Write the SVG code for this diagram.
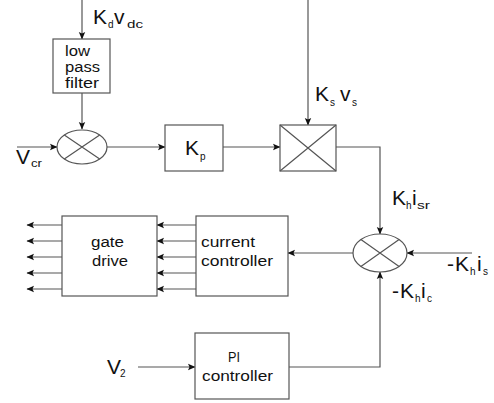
<svg xmlns="http://www.w3.org/2000/svg" width="494" height="403" viewBox="0 0 494 403">
<style>
.ln{fill:none;stroke:#555;stroke-width:1.2}
.bx{fill:#fff;stroke:#555;stroke-width:1.2}
.t{font-family:"Liberation Sans",Arial,sans-serif;font-size:14px;fill:#111}
.big{font-family:"Liberation Sans",Arial,sans-serif;font-size:21px;fill:#111}
.sub{font-family:"Liberation Sans",Arial,sans-serif;font-size:10px;fill:#111}
</style>
<defs>
<marker id="ah" markerWidth="8" markerHeight="8" refX="7" refY="4" orient="auto" markerUnits="userSpaceOnUse">
<path d="M0,0.8 L7.5,4 L0,7.2 L1.5,4 Z" fill="#111"/>
</marker>
</defs>
<rect width="494" height="403" fill="#fff"/>
<g id="connectors">
<path class="ln" d="M82,0 V39" marker-end="url(#ah)"/>
<path class="ln" d="M82,93 V129" marker-end="url(#ah)"/>
<path class="ln" d="M17,147 H57" marker-end="url(#ah)"/>
<path class="ln" d="M107,147 H165" marker-end="url(#ah)"/>
<path class="ln" d="M223,147 H280" marker-end="url(#ah)"/>
<path class="ln" d="M308,0 V125" marker-end="url(#ah)"/>
<path class="ln" d="M336,147 H380 V234" marker-end="url(#ah)"/>
<path class="ln" d="M472,253 H407" marker-end="url(#ah)"/>
<path class="ln" d="M289,367 H380 V272" marker-end="url(#ah)"/>
<path class="ln" d="M353,253 H288" marker-end="url(#ah)"/>
<path class="ln" d="M196,225 H157" marker-end="url(#ah)"/>
<path class="ln" d="M196,241 H157" marker-end="url(#ah)"/>
<path class="ln" d="M196,257 H157" marker-end="url(#ah)"/>
<path class="ln" d="M196,273 H157" marker-end="url(#ah)"/>
<path class="ln" d="M196,289 H157" marker-end="url(#ah)"/>
<path class="ln" d="M62,225 H27" marker-end="url(#ah)"/>
<path class="ln" d="M62,241 H27" marker-end="url(#ah)"/>
<path class="ln" d="M62,257 H27" marker-end="url(#ah)"/>
<path class="ln" d="M62,273 H27" marker-end="url(#ah)"/>
<path class="ln" d="M62,289 H27" marker-end="url(#ah)"/>
<path class="ln" d="M138,367 H195" marker-end="url(#ah)"/>
</g>
<g id="lpf">
<rect class="bx" x="53" y="39" width="57" height="54"/>
<text class="t" x="65" y="56" textLength="25" lengthAdjust="spacingAndGlyphs">low</text>
<text class="t" x="65" y="72" textLength="35" lengthAdjust="spacingAndGlyphs">pass</text>
<text class="t" x="65" y="88" textLength="34" lengthAdjust="spacingAndGlyphs">filter</text>
</g>
<g id="sum1">
<ellipse class="bx" cx="82" cy="147" rx="25" ry="17"/>
<path class="ln" d="M64.3,135 L99.7,159 M64.3,159 L99.7,135"/>
</g>
<g id="kp">
<rect class="bx" x="165" y="125" width="58" height="46"/>
<text class="big" x="185" y="155">K</text><text class="sub" x="200" y="160">p</text>
</g>
<g id="mult">
<rect class="bx" x="280" y="125" width="56" height="46"/>
<path class="ln" d="M280,125 L336,171 M280,171 L336,125"/>
</g>
<g id="sum2">
<ellipse class="bx" cx="380" cy="253" rx="27" ry="19"/>
<path class="ln" d="M360.9,239.6 L399.1,266.4 M360.9,266.4 L399.1,239.6"/>
</g>
<g id="current-controller">
<rect class="bx" x="196" y="216" width="92" height="80"/>
<text class="t" x="201" y="247" textLength="54" lengthAdjust="spacingAndGlyphs">current</text>
<text class="t" x="201" y="266" textLength="72" lengthAdjust="spacingAndGlyphs">controller</text>
</g>
<g id="gate-drive">
<rect class="bx" x="62" y="216" width="95" height="80"/>
<text class="t" x="91" y="247" textLength="33" lengthAdjust="spacingAndGlyphs">gate</text>
<text class="t" x="92" y="266" textLength="36" lengthAdjust="spacingAndGlyphs">drive</text>
</g>
<g id="pi-controller">
<rect class="bx" x="195" y="333" width="94" height="66"/>
<text class="t" x="228" y="362" textLength="12" lengthAdjust="spacingAndGlyphs">PI</text>
<text class="t" x="202" y="381" textLength="71" lengthAdjust="spacingAndGlyphs">controller</text>
</g>
<g id="labels">
<text class="big" x="93" y="24">K</text><text class="sub" x="108" y="28">d</text><text class="big" x="114" y="24">v</text><text class="sub" x="127" y="28" textLength="16" lengthAdjust="spacingAndGlyphs">dc</text>
<text class="big" x="16" y="164">V</text><text class="sub" x="31" y="167" textLength="11" lengthAdjust="spacingAndGlyphs">cr</text>
<text class="big" x="315" y="101">K</text><text class="sub" x="330" y="106">s</text><text class="big" x="340" y="101">v</text><text class="sub" x="352" y="106">s</text>
<text class="big" x="392" y="205">K</text><text class="sub" x="406" y="209">h</text><text class="big" x="412" y="205">i</text><text class="sub" x="417" y="209" textLength="13" lengthAdjust="spacingAndGlyphs">sr</text>
<text class="big" x="447" y="271">-</text><text class="big" x="455" y="271">K</text><text class="sub" x="470" y="275">h</text><text class="big" x="477" y="271">i</text><text class="sub" x="483" y="275">s</text>
<text class="big" x="392" y="298">-</text><text class="big" x="400" y="298">K</text><text class="sub" x="415" y="302">h</text><text class="big" x="421" y="298">i</text><text class="sub" x="427" y="302">c</text>
<text class="big" x="107" y="374">V</text><text class="sub" x="120" y="377">2</text>
</g>
</svg>
